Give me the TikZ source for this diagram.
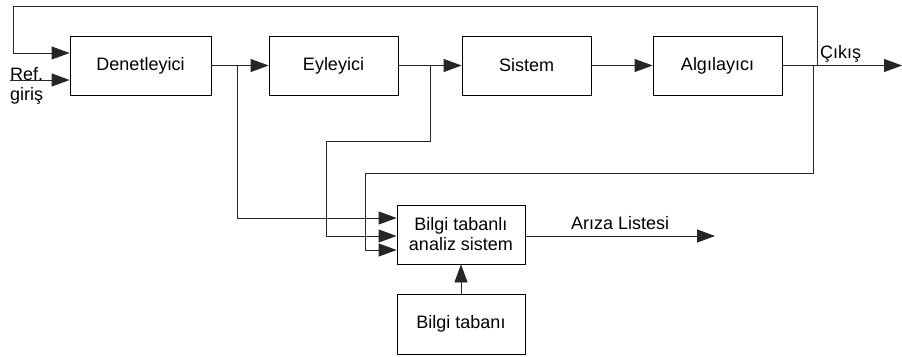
\documentclass[tikz,border=0pt]{standalone}
\usepackage{fontspec}
\setmainfont{Liberation Sans}
\usetikzlibrary{arrows.meta}
\begin{document}
\begin{tikzpicture}[x=1pt,y=-1pt,
  font=\fontsize{18}{20}\selectfont,
  blok/.style={draw,line width=0.8pt,minimum height=59pt,inner sep=0pt,align=center},
  ok/.style={-{Triangle[length=18pt,width=13pt]}},
  hat/.style={line width=0.8pt,draw=black!85}]
\useasboundingbox (0,0) rectangle (902,356);

% main chain
\node[blok,minimum width=141pt] (den) at (140.5,65.5) {Denetleyici};
\node[blok,minimum width=129pt] (eyl) at (333.5,65.5) {Eyleyici};
\node[blok,minimum width=129pt] (sis) at (526.5,65.5) {Sistem};
\node[blok,minimum width=129pt] (alg) at (717.5,65.5) {Algılayıcı};

% diagnosis blocks
\node[blok,minimum width=128pt] (ana) at (461,234.5) {Bilgi tabanlı\\analiz sistem};
\node[blok,minimum width=128pt,minimum height=60pt] (tab) at (461,324) {Bilgi tabanı};

% branch points and free ends
\coordinate (b1) at (237,65.5);
\coordinate (b2) at (430,65.5);
\coordinate (b3) at (813,65.5);
\coordinate (fb) at (817,65.5);
\coordinate (out) at (902,65.5);
\coordinate (ref) at (10,80);
\coordinate (ariza) at (715,236);

\draw[hat,ok] (den.east) -- (eyl.west);
\draw[hat,ok] (eyl.east) -- (sis.west);
\draw[hat,ok] (sis.east) -- (alg.west);
\draw[hat,ok] (alg.east) -- (out);
\draw[hat,ok] (ref) -- (ref -| den.west);

% feedback loop
\draw[hat,ok] (fb) |- (13,6) |- (den.west |- 0,53);

% measurements to the analysis block
\draw[hat,ok] (b1) |- (ana.west |- 0,218);
\draw[hat,ok] (b2) |- (326,141) |- (ana.west |- 0,236);
\draw[hat,ok] (b3) |- (365,173) |- (ana.west |- 0,250);

\draw[hat,ok] (ana.east |- ariza) -- node[above=3pt] {Arıza Listesi} (ariza);
\draw[hat,ok] (tab.north) -- (ana.south);

% labels
\node[anchor=base west,inner sep=0pt] at (10,80) {Ref.};
\node[anchor=base west,inner sep=0pt] at (10,100) {giriş};
\node[anchor=base west,inner sep=0pt] at (820,58) {Çıkış};
\end{tikzpicture}
\end{document}
